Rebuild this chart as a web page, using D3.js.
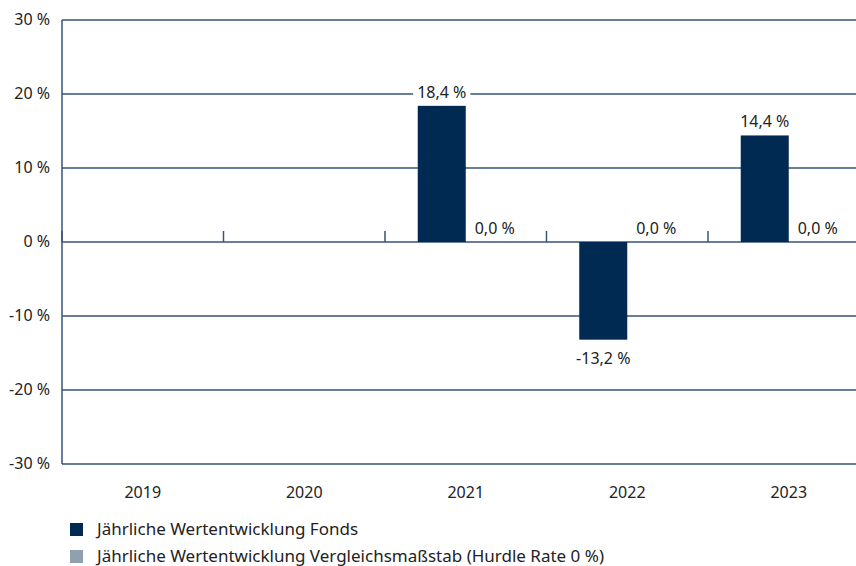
<!DOCTYPE html>
<html>
<head>
<meta charset="utf-8">
<script src="https://cdn.jsdelivr.net/npm/d3@7"></script>
<style>
  body { margin: 0; background: #fff; }
  svg { font-family: "Noto Sans", "Open Sans", sans-serif; }
</style>
</head>
<body>
<svg id="chart" width="856" height="566"></svg>
<script>
// data
const years = ["2019", "2020", "2021", "2022", "2023"];
const fonds = [null, null, 18.4, -13.2, 14.4];
const hurdle = [null, null, 0.0, 0.0, 0.0];
const yTicks = [-30, -20, -10, 0, 10, 20, 30];
const seriesNames = [
    "Jährliche Wertentwicklung Fonds",
    "Jährliche Wertentwicklung Vergleichsmaßstab (Hurdle Rate 0 %)"
];

const navy = "#002a52";
const grey = "#8fa1ad";
const gridColor = "#34557a";
const textColor = "#222";

const svg = d3.select("#chart");
const plotLeft = 62, plotRight = 869.5, plotTop = 20, plotBottom = 464;

const x = d3.scaleBand().domain(years).range([plotLeft, plotRight]).padding(0);
const y = d3.scaleLinear().domain([-30, 30]).range([plotBottom, plotTop]);
const barW = 48;

const fmt = v => d3.format(".1f")(v).replace(".", ",").replace("\u2212", "-") + " %";

// gridlines
svg.append("g").selectAll("line")
    .data(yTicks)
    .enter()
    .append("line")
    .attr("x1", plotLeft).attr("x2", 856)
    .attr("y1", d => y(d)).attr("y2", d => y(d))
    .attr("stroke", gridColor)
    .attr("stroke-width", 1.5);

// left axis line
svg.append("line")
    .attr("x1", plotLeft).attr("x2", plotLeft)
    .attr("y1", plotTop).attr("y2", plotBottom)
    .attr("stroke", gridColor)
    .attr("stroke-width", 1.5);

// y labels
svg.append("g").selectAll("text")
    .data(yTicks)
    .enter()
    .append("text")
    .attr("x", 50)
    .attr("y", d => y(d) + 5)
    .attr("text-anchor", "end")
    .attr("font-size", 16)
    .attr("fill", textColor)
    .text(d => d + " %");

// category separator ticks on zero line
svg.append("g").selectAll("line")
    .data(years)
    .enter()
    .append("line")
    .attr("x1", d => x(d)).attr("x2", d => x(d))
    .attr("y1", y(0) - 11).attr("y2", y(0))
    .attr("stroke", gridColor)
    .attr("stroke-width", 1.5);

// x labels
svg.append("g").selectAll("text")
    .data(years)
    .enter()
    .append("text")
    .attr("x", d => x(d) + x.bandwidth() / 2)
    .attr("y", 498)
    .attr("text-anchor", "middle")
    .attr("font-size", 16)
    .attr("fill", textColor)
    .text(d => d);

const series = [
    { values: fonds, color: navy, offset: -barW, dx: 0 },
    { values: hurdle, color: grey, offset: 0, dx: 5 }
];

series.forEach(s => {
    const rows = years.map((yr, i) => ({ year: yr, v: s.values[i] })).filter(d => d.v !== null);
    const g = svg.append("g");

    g.selectAll("rect")
        .data(rows)
        .enter()
        .append("rect")
        .attr("x", d => x(d.year) + x.bandwidth() / 2 + s.offset)
        .attr("y", d => y(Math.max(0, d.v)))
        .attr("width", barW)
        .attr("height", d => Math.abs(y(d.v) - y(0)))
        .attr("fill", s.color);

    const labels = g.selectAll("g.lbl")
        .data(rows)
        .enter()
        .append("g")
        .attr("class", "lbl")
        .attr("transform", d => {
            const cx = x(d.year) + x.bandwidth() / 2 + s.offset + barW / 2 + s.dx;
            const cy = d.v < 0 ? y(d.v) + 24 : y(d.v) - 8;
            return "translate(" + cx + "," + cy + ")";
        });

    labels.append("text")
        .attr("text-anchor", "middle")
        .attr("font-size", 16)
        .attr("fill", textColor)
        .text(d => fmt(d.v));

    // white box behind labels to cut the gridlines
    labels.each(function() {
        const t = d3.select(this).select("text");
        const b = t.node().getBBox();
        d3.select(this).insert("rect", "text")
            .attr("x", b.x - 4).attr("y", b.y + 2)
            .attr("width", b.width + 8).attr("height", b.height - 4)
            .attr("fill", "#fff");
    });
});

// legend
const legend = svg.append("g").selectAll("g")
    .data(seriesNames)
    .enter()
    .append("g")
    .attr("transform", (d, i) => "translate(70," + (523 + i * 27) + ")");

legend.append("rect")
    .attr("width", 13).attr("height", 13)
    .attr("fill", (d, i) => i === 0 ? navy : grey);

legend.append("text")
    .attr("x", 27).attr("y", 12)
    .attr("font-size", 17)
    .attr("fill", textColor)
    .text(d => d);
</script>
</body>
</html>
